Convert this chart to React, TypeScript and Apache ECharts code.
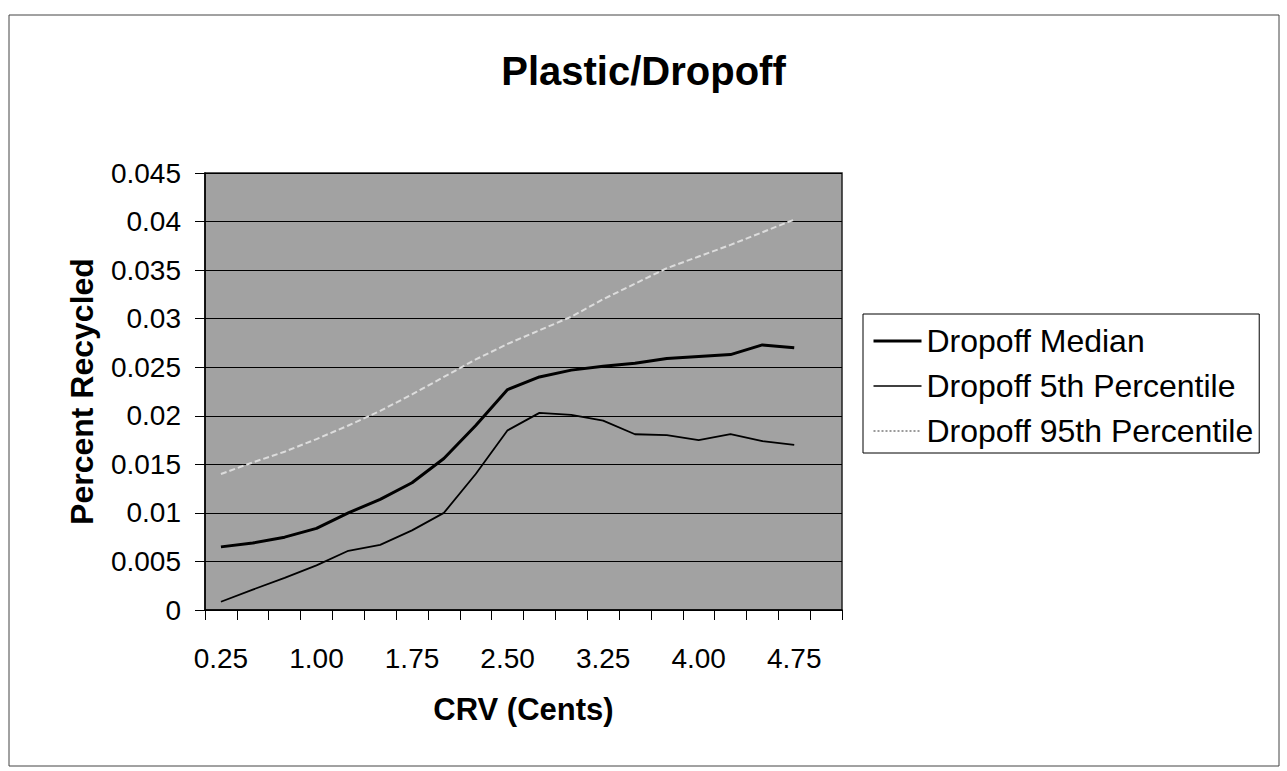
import React, { useEffect, useRef } from "react";
import * as echarts from "echarts";

const categories = [
  "0.25", "0.50", "0.75", "1.00", "1.25", "1.50", "1.75", "2.00", "2.25", "2.50",
  "2.75", "3.00", "3.25", "3.50", "3.75", "4.00", "4.25", "4.50", "4.75", "5.00",
];

const medianValues = [
  0.0065, 0.0069, 0.0075, 0.0084, 0.0100, 0.0114, 0.0131, 0.0156, 0.0190, 0.0227,
  0.0240, 0.0247, 0.0251, 0.0254, 0.0259, 0.0261, 0.0263, 0.0273, 0.0270,
];

const p5Values = [
  0.00085, 0.0021, 0.0033, 0.0046, 0.0061, 0.0067, 0.0082, 0.0100, 0.0140, 0.0185,
  0.0203, 0.0201, 0.0195, 0.0181, 0.0180, 0.0175, 0.0181, 0.0174, 0.0170,
];

const p95Values = [
  0.0140, 0.0152, 0.0163, 0.0176, 0.0190, 0.0205, 0.0222, 0.0240, 0.0258, 0.0274,
  0.0288, 0.0302, 0.0320, 0.0336, 0.0352, 0.0364, 0.0376, 0.0389, 0.0402,
];

const seriesNames = ["Dropoff Median", "Dropoff 5th Percentile", "Dropoff 95th Percentile"];

const FONT = '"Liberation Sans", Arial, Helvetica, sans-serif';

export default function App() {
  const ref = useRef<HTMLDivElement>(null);

  useEffect(() => {
    if (!ref.current) return;
    const chart = echarts.init(ref.current, null, { renderer: "svg" });
    chart.setOption({
      animation: false,
      backgroundColor: "#ffffff",
      textStyle: { fontFamily: FONT, color: "#000" },
      title: {
        text: "Plastic/Dropoff",
        left: "center",
        top: 51,
        padding: 0,
        textStyle: { fontFamily: FONT, fontSize: 40, fontWeight: "bold", color: "#000" },
      },
      graphic: [
        {
          type: "rect",
          shape: { x: 9, y: 15, width: 1270, height: 751 },
          style: { fill: "none", stroke: "#444", lineWidth: 1 },
          silent: true,
        },
      ],
      grid: {
        left: 205,
        top: 173,
        right: 445,
        bottom: 161,
        show: true,
        backgroundColor: "#a2a2a2",
        borderColor: "#222",
        borderWidth: 1.5,
      },
      legend: {
        orient: "vertical",
        left: 863,
        top: 314,
        padding: [11, 6, 6, 9],
        itemGap: 13,
        itemWidth: 48,
        itemHeight: 14,
        borderColor: "#000",
        borderWidth: 1,
        backgroundColor: "#fff",
        itemStyle: { opacity: 0, color: "transparent", borderWidth: 0 },
        textStyle: { fontFamily: FONT, fontSize: 32, color: "#000" },
        data: [
          { name: seriesNames[0], lineStyle: { color: "#000", width: 3 } },
          { name: seriesNames[1], lineStyle: { color: "#000", width: 1.6 } },
          { name: seriesNames[2], lineStyle: { color: "#9a9a9a", type: "dotted", width: 2 } },
        ],
      },
      xAxis: {
        type: "category",
        data: categories,
        boundaryGap: true,
        axisLine: { show: true, lineStyle: { color: "#000", width: 1.5 } },
        axisTick: { show: true, interval: 0, length: 10, lineStyle: { color: "#000", width: 1 } },
        axisLabel: { interval: 2, fontSize: 28, margin: 34, color: "#000", fontFamily: FONT },
        splitLine: { show: false },
        name: "CRV (Cents)",
        nameLocation: "middle",
        nameGap: 84,
        nameTextStyle: { fontFamily: FONT, fontSize: 31, fontWeight: "bold", color: "#000" },
      },
      yAxis: {
        type: "value",
        min: 0,
        max: 0.045,
        interval: 0.005,
        axisLine: { show: true, lineStyle: { color: "#000", width: 1.5 } },
        axisTick: { show: true, length: 10, lineStyle: { color: "#000", width: 1 } },
        axisLabel: {
          fontSize: 28,
          margin: 24,
          color: "#000",
          fontFamily: FONT,
          formatter: (v: number) => String(+v.toFixed(3)),
        },
        splitLine: { show: true, lineStyle: { color: "#000", width: 1 } },
        name: "Percent Recycled",
        nameLocation: "middle",
        nameGap: 107,
        nameRotate: 90,
        nameTextStyle: { fontFamily: FONT, fontSize: 32, fontWeight: "bold", color: "#000" },
      },
      series: [
        {
          name: seriesNames[0],
          type: "line",
          data: medianValues,
          symbol: "none",
          lineStyle: { color: "#000", width: 3 },
          itemStyle: { color: "#000" },
          z: 4,
        },
        {
          name: seriesNames[1],
          type: "line",
          data: p5Values,
          symbol: "none",
          lineStyle: { color: "#000", width: 1.8 },
          itemStyle: { color: "#000" },
          z: 3,
        },
        {
          name: seriesNames[2],
          type: "line",
          data: p95Values,
          symbol: "none",
          lineStyle: { color: "#dcdcdc", width: 2, type: [6, 3] },
          itemStyle: { color: "#9a9a9a" },
          z: 2,
        },
      ],
    });
    return () => chart.dispose();
  }, []);

  return (
    <div
      ref={ref}
      style={{ position: "fixed", left: 0, top: 0, width: 1287, height: 771, background: "#fff" }}
    />
  );
}
